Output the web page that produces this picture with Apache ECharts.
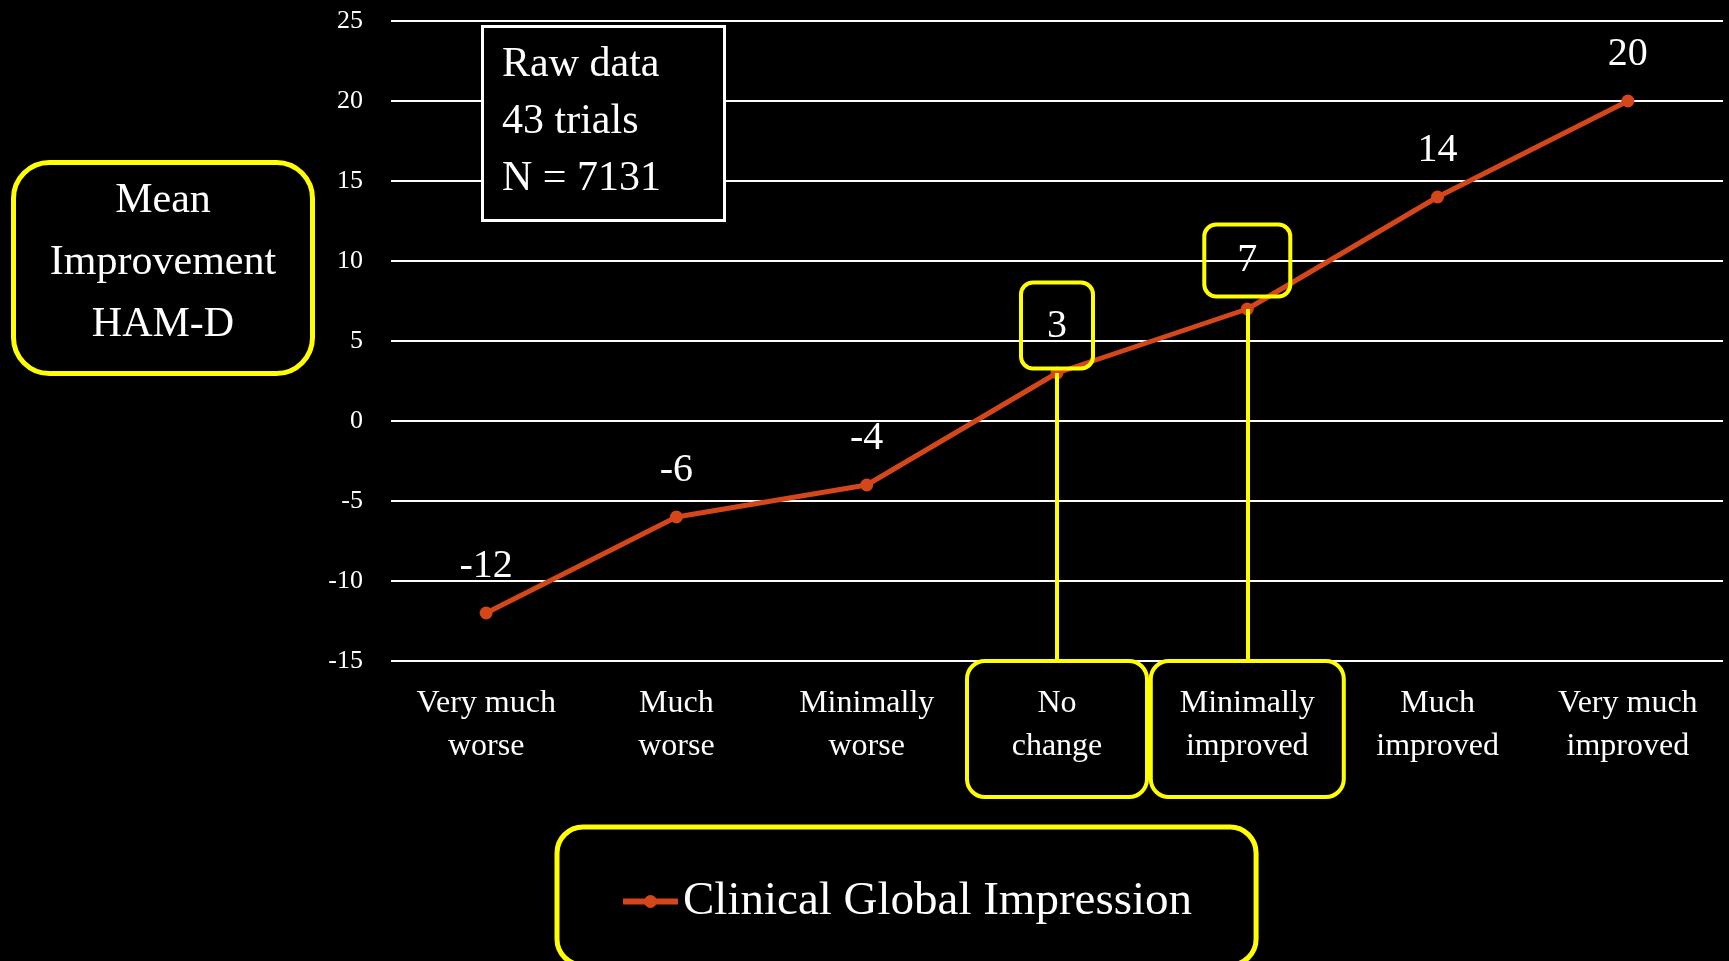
<!DOCTYPE html>
<html>
<head>
<meta charset="utf-8">
<script src="https://cdn.jsdelivr.net/npm/echarts@6/dist/echarts.min.js"></script>
<style>
html,body{margin:0;padding:0;background:#000;}
#chart{width:1729px;height:961px;}
</style>
</head>
<body>
<div id="chart"></div>
<script>
const categories = ['Very much\nworse', 'Much\nworse', 'Minimally\nworse', 'No\nchange', 'Minimally\nimproved', 'Much\nimproved', 'Very much\nimproved'];
const cgiValues = [-12, -6, -4, 3, 7, 14, 20];
const highlighted = ['No\nchange', 'Minimally\nimproved'];
const seriesName = 'Clinical Global Impression';
const yTitleLines = ['Mean', 'Improvement', 'HAM-D'];
const infoText = 'Raw data\n43 trials\nN = 7131';

const FONT = '"Liberation Serif", "DejaVu Serif", serif';
const YELLOW = '#ffff00';
const ORANGE = '#d4471a';

const boxWidths = { 'No\nchange': 164, 'Minimally\nimproved': 177 };

const catData = categories.map(c => {
  if (highlighted.indexOf(c) >= 0) {
    return {
      value: c,
      textStyle: {
        borderColor: YELLOW,
        borderWidth: 4,
        borderRadius: 18,
        width: boxWidths[c]
      }
    };
  }
  return c;
});

const seriesData = cgiValues.map((v, i) => {
  const c = categories[i];
  if (c === 'No\nchange') {
    return { value: v, label: { borderColor: YELLOW, borderWidth: 4, borderRadius: 12, padding: [24, 26, 22, 26], distance: -2 } };
  }
  if (c === 'Minimally\nimproved') {
    return { value: v, label: { borderColor: YELLOW, borderWidth: 4, borderRadius: 12, padding: [16, 33, 16, 33], distance: 6 } };
  }
  return v;
});

const markLines = highlighted.map(c => {
  const idx = categories.indexOf(c);
  return [{ coord: [c, cgiValues[idx]] }, { coord: [c, -15] }];
});

const chart = echarts.init(document.getElementById('chart'));
chart.setOption({
  backgroundColor: '#000',
  animation: false,
  title: [
    {
      text: yTitleLines.map(t => '{a|' + t + '}').join('\n'),
      left: 13,
      top: 162,
      padding: [8, 30, 18, 30],
      borderColor: YELLOW,
      borderWidth: 5,
      borderRadius: 36,
      backgroundColor: '#000',
      textStyle: {
        color: '#fff', fontFamily: FONT, fontSize: 42, fontWeight: 'normal', lineHeight: 62,
        rich: { a: { width: 240, align: 'center', color: '#fff', fontFamily: FONT, fontSize: 42, lineHeight: 62 } }
      }
    },
    {
      text: infoText,
      left: 482,
      top: 26,
      padding: [10, 64, 14, 20],
      borderColor: '#fff',
      borderWidth: 3,
      backgroundColor: '#000',
      textStyle: { color: '#fff', fontFamily: FONT, fontSize: 42, fontWeight: 'normal', lineHeight: 57 }
    }
  ],
  legend: {
    left: 557,
    top: 827,
    padding: [51, 64, 40, 63],
    borderColor: YELLOW,
    borderWidth: 5,
    borderRadius: 26,
    itemWidth: 55,
    itemHeight: 16,
    itemGap: 6,
    lineStyle: { width: 6 },
    textStyle: { color: '#fff', fontFamily: FONT, fontSize: 47 },
    data: [seriesName]
  },
  grid: { left: 391, right: 6, top: 21, bottom: 300 },
  xAxis: {
    type: 'category',
    data: catData,
    boundaryGap: true,
    axisLine: { show: false },
    axisTick: { show: false },
    axisLabel: {
      interval: 0,
      hideOverlap: false,
      margin: 0,
      color: '#fff',
      fontFamily: FONT,
      fontSize: 32,
      lineHeight: 43,
      padding: [21, 8, 29, 8],
      verticalAlign: 'top'
    }
  },
  yAxis: {
    type: 'value',
    min: -15,
    max: 25,
    interval: 5,
    axisLine: { show: false },
    axisTick: { show: false },
    axisLabel: { color: '#fff', fontFamily: FONT, fontSize: 26, margin: 28 },
    splitLine: { lineStyle: { color: '#ffffff', width: 2 } }
  },
  series: [{
    name: seriesName,
    type: 'line',
    data: seriesData,
    color: ORANGE,
    lineStyle: { color: ORANGE, width: 5 },
    itemStyle: { color: ORANGE },
    symbol: 'circle',
    symbolSize: 13,
    label: {
      show: true,
      position: 'top',
      distance: 20,
      color: '#fff',
      fontFamily: FONT,
      fontSize: 40,
      lineHeight: 40
    },
    markLine: {
      silent: true,
      symbol: 'none',
      label: { show: false },
      lineStyle: { color: YELLOW, width: 4, type: 'solid' },
      data: markLines
    },
    z: 3
  }]
});
</script>
</body>
</html>
